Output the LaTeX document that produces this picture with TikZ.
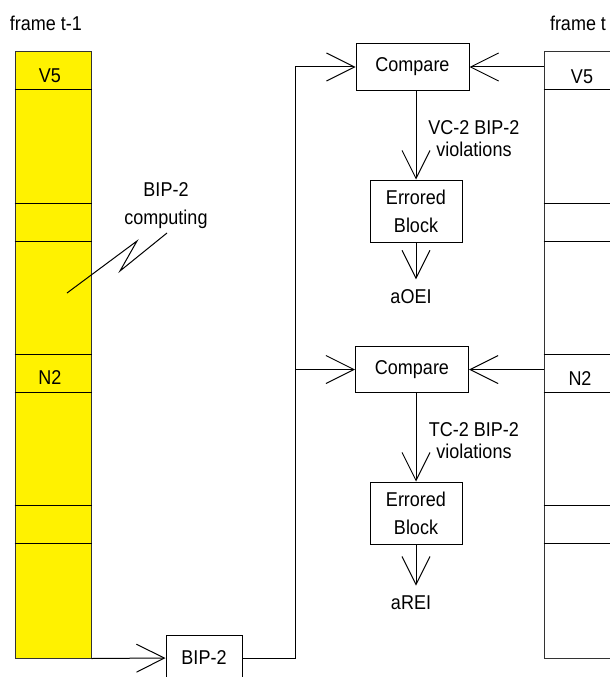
\documentclass[tikz,border=0pt]{standalone}
\usepackage{fontspec}
\setmainfont[FakeStretch=0.9]{Liberation Sans}
\usetikzlibrary{arrows.meta,positioning}

\begin{document}
\begin{tikzpicture}[x=1pt, y=-1pt,
  font=\fontsize{20}{22}\selectfont,
  line width=1pt,
  frm/.style={draw=black!80, minimum width=76pt, minimum height=606pt, inner sep=0pt},
  box/.style={draw, align=center, inner sep=0pt},
  cmp/.style={box, minimum width=113pt, minimum height=46pt},
  err/.style={box, minimum width=92pt, minimum height=62pt,
              font=\fontsize{20}{28}\selectfont},
  lbl/.style={align=center, inner sep=0pt},
  arr/.style={-{Straight Barb[length=28pt, width=28pt]}}]
  \useasboundingbox (0,0) rectangle (610,677);
  \clip (0,0) rectangle (610,677);
  \fill[white] (0,0) rectangle (610,677);
  % frames
  \node[lbl] (ttA) at (46,23) {frame t-1};
  \node[lbl] (ttB) at (578,23) {frame t};
  \node[frm, fill=yellow] (fA) at (53,355) {};
  \node[frm, fill=white] (fB) at (582,355) {};
  \foreach \y in {89,203,241,354,392,505,543} {
    \coordinate (r) at (0,\y);
    \draw (fA.west |- r) -- (fA.east |- r);
    \draw (fB.west |- r) -- (fB.east |- r);
  }
  \node[lbl] (vA) at (50,76) {V5};
  \node[lbl] (nA) at (50,378) {N2};
  \node[lbl] (vB) at (582,77) {V5};
  \node[lbl] (nB) at (580,379) {N2};
  \node[lbl, font=\fontsize{20}{28}\selectfont] (cmt) at (166,206) {BIP-2\\computing};
  \draw (167,233) -- (120,271) -- (137,241) -- (67,293);
  % checking blocks
  \node[cmp] (cmpA) at (412.5,67) {Compare};
  \node[err] (errA) at (416,211) {Errored\\Block};
  \node[lbl] (vioA) at (474,139) {VC-2 BIP-2\\violations};
  \node[lbl, inner sep=10pt] (oei) at (411,297) {aOEI};
  \node[cmp] (cmpB) at (412,369.5) {Compare};
  \node[err] (errB) at (416,513) {Errored\\Block};
  \node[lbl] (vioB) at (474,441) {TC-2 BIP-2\\violations};
  \node[lbl, inner sep=10pt] (rei) at (411,603) {aREI};
  \node[box, minimum width=76pt, minimum height=46pt] (bip) at (204,658) {BIP-2};
  \coordinate (bus) at (295,0);
  % connectors
  \draw[arr] (fA.south east) -- (bip.west);
  \draw[arr] (bip.east) -- (bip.east -| bus) |- (cmpA.west);
  \draw[arr] (bus |- cmpB) -- (cmpB.west);
  \draw[arr] (cmpA -| fB.west) -- (cmpA.east);
  \draw[arr] (cmpB -| fB.west) -- (cmpB.east);
  \draw[arr] (cmpA.south -| errA.north) -- (errA.north);
  \draw[arr] (cmpB.south -| errB.north) -- (errB.north);
  \draw[arr] (errA.south) -- (errA.south |- oei.north);
  \draw[arr] (errB.south) -- (errB.south |- rei.north);
\end{tikzpicture}
\end{document}
